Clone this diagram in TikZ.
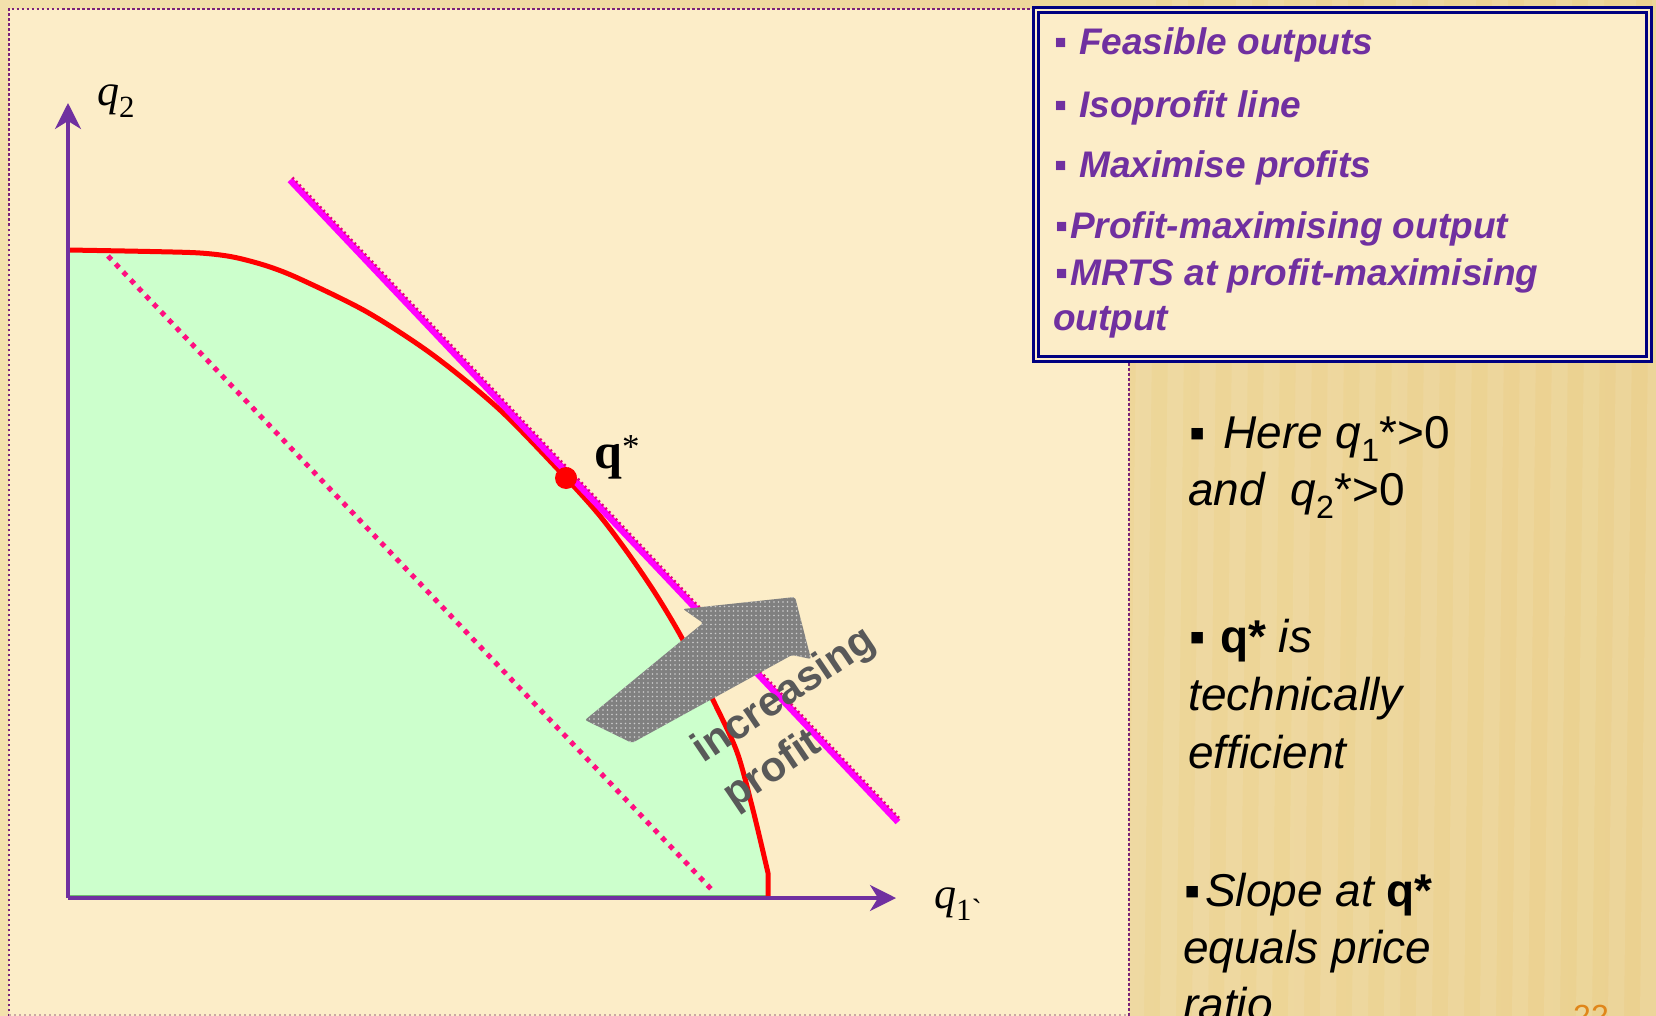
\documentclass[tikz,border=0pt]{standalone}
\usepackage{fontspec}
\setmainfont{Liberation Serif}
\setsansfont{Liberation Sans}
\usepackage{tikz}
\usetikzlibrary{arrows.meta, patterns.meta}
\definecolor{goldbg}{HTML}{EBD190}
\definecolor{goldlight}{HTML}{F3E1AC}
\definecolor{panelbg}{HTML}{FCEDC8}
\definecolor{feasible}{HTML}{CCFFCC}
\definecolor{feasedge}{HTML}{3C9A3C}
\definecolor{axispurple}{HTML}{7030A0}
\definecolor{frontier}{HTML}{FF0000}
\definecolor{isomagenta}{HTML}{FF00FF}
\definecolor{isodots}{HTML}{E6007E}
\definecolor{pricedots}{HTML}{FF0F80}
\definecolor{boxnavy}{HTML}{000080}
\definecolor{legendpurple}{HTML}{7030A0}
\definecolor{panelpurple}{HTML}{7B217B}
\definecolor{arrowgray}{HTML}{808080}
\definecolor{labelgray}{HTML}{595959}
\definecolor{slideorange}{HTML}{E0861A}

\begin{document}
\begin{tikzpicture}[
  x=1pt, y=-1pt,
  axisline/.style={line width=3.5pt, color=axispurple,
                   -{Stealth[length=26pt, width=26pt, inset=8pt]}},
  frontierline/.style={line width=5pt, color=frontier, line join=round},
  isoprofit/.style={line width=6.5pt, color=isomagenta},
  isodotted/.style={line width=2.5pt, color=isodots, dash pattern=on 2pt off 3pt},
  priceline/.style={line width=5pt, color=pricedots, dash pattern=on 5pt off 6pt},
  paneledge/.style={line width=2.5pt, color=panelpurple, dash pattern=on 2.5pt off 2.5pt},
  legendbox/.style={draw=boxnavy, line width=2.5pt, double=panelbg, double distance=2.5pt,
                    fill=panelbg, minimum width=613pt, minimum height=349pt, inner sep=0pt},
  legendtext/.style={anchor=base west, inner sep=0pt, text=legendpurple,
                     font=\sffamily\bfseries\itshape\fontsize{37}{44}\selectfont},
  notetext/.style={anchor=base west, inner sep=0pt,
                   font=\sffamily\itshape\fontsize{46}{57}\selectfont},
  axislabel/.style={anchor=base west, inner sep=0pt, font=\itshape\fontsize{44}{44}\selectfont}
]
\clip (0,0) rectangle (1656,1016);

% slide background
\shade[left color=goldlight, right color=goldbg] (0,0) rectangle (1656,1016);
\foreach \sx in {1140,1172,...,1656}
  \fill[white, opacity=0.09] (\sx,0) -- (\sx+16,0) -- (\sx+4,1016) -- (\sx-12,1016) -- cycle;

% diagram panel
\fill[panelbg] (9,9) rectangle (1129,1016);
\draw[paneledge] (9,1016) -- (9,9) -- (1129,9);
\draw[paneledge] (1129,363) -- (1129,1016);
\draw[line width=1.5pt, color=pink!60!gray, dash pattern=on 2pt off 3pt] (9,1015) -- (1129,1015);

% feasible set
\coordinate (O) at (68,898);
\coordinate (ytop) at (68,103);
\coordinate (xend) at (896,898);
\filldraw[fill=feasible, draw=feasedge, line width=1.5pt] (68,896)
  -- plot[smooth, tension=0.5] coordinates {(68,250) (150,251.5) (200,253) (233,257)
     (267,266) (300,279) (367,312) (433,355) (500,410) (566,478) (600,516)
     (630,556) (657,596) (683,640) (713,700) (737,752) (753,810) (768,873)}
  -- (768,896) -- cycle;

% price line
\coordinate (priceA) at (108,256);
\coordinate (priceB) at (713,891);
\draw[priceline] (priceA) -- (priceB);

% frontier
\draw[frontierline] plot[smooth, tension=0.5] coordinates {(68,250) (150,251.5) (200,253)
     (233,257) (267,266) (300,279) (367,312) (433,355) (500,410) (566,478)
     (600,516) (630,556) (657,596) (683,640) (713,700) (737,752) (753,810)
     (768,873)} -- (768,898);

% axes
\draw[axisline] (O) -- (ytop);
\draw[axisline] (O) -- (xend);
\node[axislabel] (q2) at (97,106) {q\textsubscript{\upshape 2}};
\node[axislabel] (q1) at (934,908) {q\textsubscript{\upshape 1\textasciigrave}};

% isoprofit line
\coordinate (isoA) at (290,180);
\coordinate (isoB) at (898,822);
\draw[isoprofit] (isoA) -- (isoB);
\draw[isodotted] ([shift={(2.5,-2.5)}]isoA) -- ([shift={(2.5,-2.5)}]isoB);

% optimum
\node[circle, fill=frontier, minimum size=22pt, inner sep=0pt] (qstar) at (566,478) {};
\node[anchor=base west, inner sep=0pt, font=\bfseries\fontsize{50}{50}\selectfont]
  (qstarlabel) at (594,468) {q\textsuperscript{\mdseries *}};

% increasing profit arrow
\path[fill=arrowgray, rounded corners=2pt,
      postaction={pattern={Dots[distance=4.5pt, radius=0.9pt]}, pattern color=white!60!arrowgray}]
  (585,720) -- (632,743) -- (792,655) -- (811,659) -- (795,597) -- (683,609) -- (703,623) -- cycle;
\node[rotate=34, align=left, inner sep=0pt, text=labelgray,
      font=\sffamily\bfseries\fontsize{42}{55}\selectfont] (profitlabel) at (800,719)
  {increasing\\profit};

% legend box
\node[legendbox] (legend) at (1342.5,184.5) {};
\node[legendtext] (feasibleout) at (1054,55) {\makebox[25pt][l]{\upshape ▪}Feasible outputs};
\node[legendtext] (isoline) at (1054,118) {\makebox[25pt][l]{\upshape ▪}Isoprofit line};
\node[legendtext] (maxprofit) at (1054,178) {\makebox[25pt][l]{\upshape ▪}Maximise profits};
\node[legendtext] (profitmax) at (1055,239) {\makebox[15pt][l]{\upshape ▪}Profit-maximising output};
\node[legendtext] (mrts) at (1055,285) {\makebox[15pt][l]{\upshape ▪}MRTS at profit-maximising};
\node[legendtext] (mrtsout) at (1053,330) {output};

% notes
\node[notetext] (here) at (1189,448) {\makebox[34pt][l]{\upshape ▪}Here q\textsubscript{\upshape 1}{\upshape *>0}};
\node[notetext] (hereand) at (1188,505) {and\ \ q\textsubscript{\upshape 2}{\upshape *>0}};
\node[notetext] (effic) at (1189,652) {\makebox[31pt][l]{\upshape ▪}{\upshape\bfseries q*}\ is};
\node[notetext] (technically) at (1188,710) {technically};
\node[notetext] (efficient) at (1188,768) {efficient};
\node[notetext] (slope) at (1184,906) {\makebox[21pt][l]{\upshape ▪}Slope at {\upshape\bfseries q*}};
\node[notetext] (equals) at (1183,963) {equals price};
\node[notetext] (ratio) at (1183,1020) {ratio};
\node[anchor=base west, inner sep=0pt, text=slideorange,
      font=\sffamily\fontsize{32}{32}\selectfont] (slideno) at (1573,1027) {22};
\end{tikzpicture}
\end{document}
